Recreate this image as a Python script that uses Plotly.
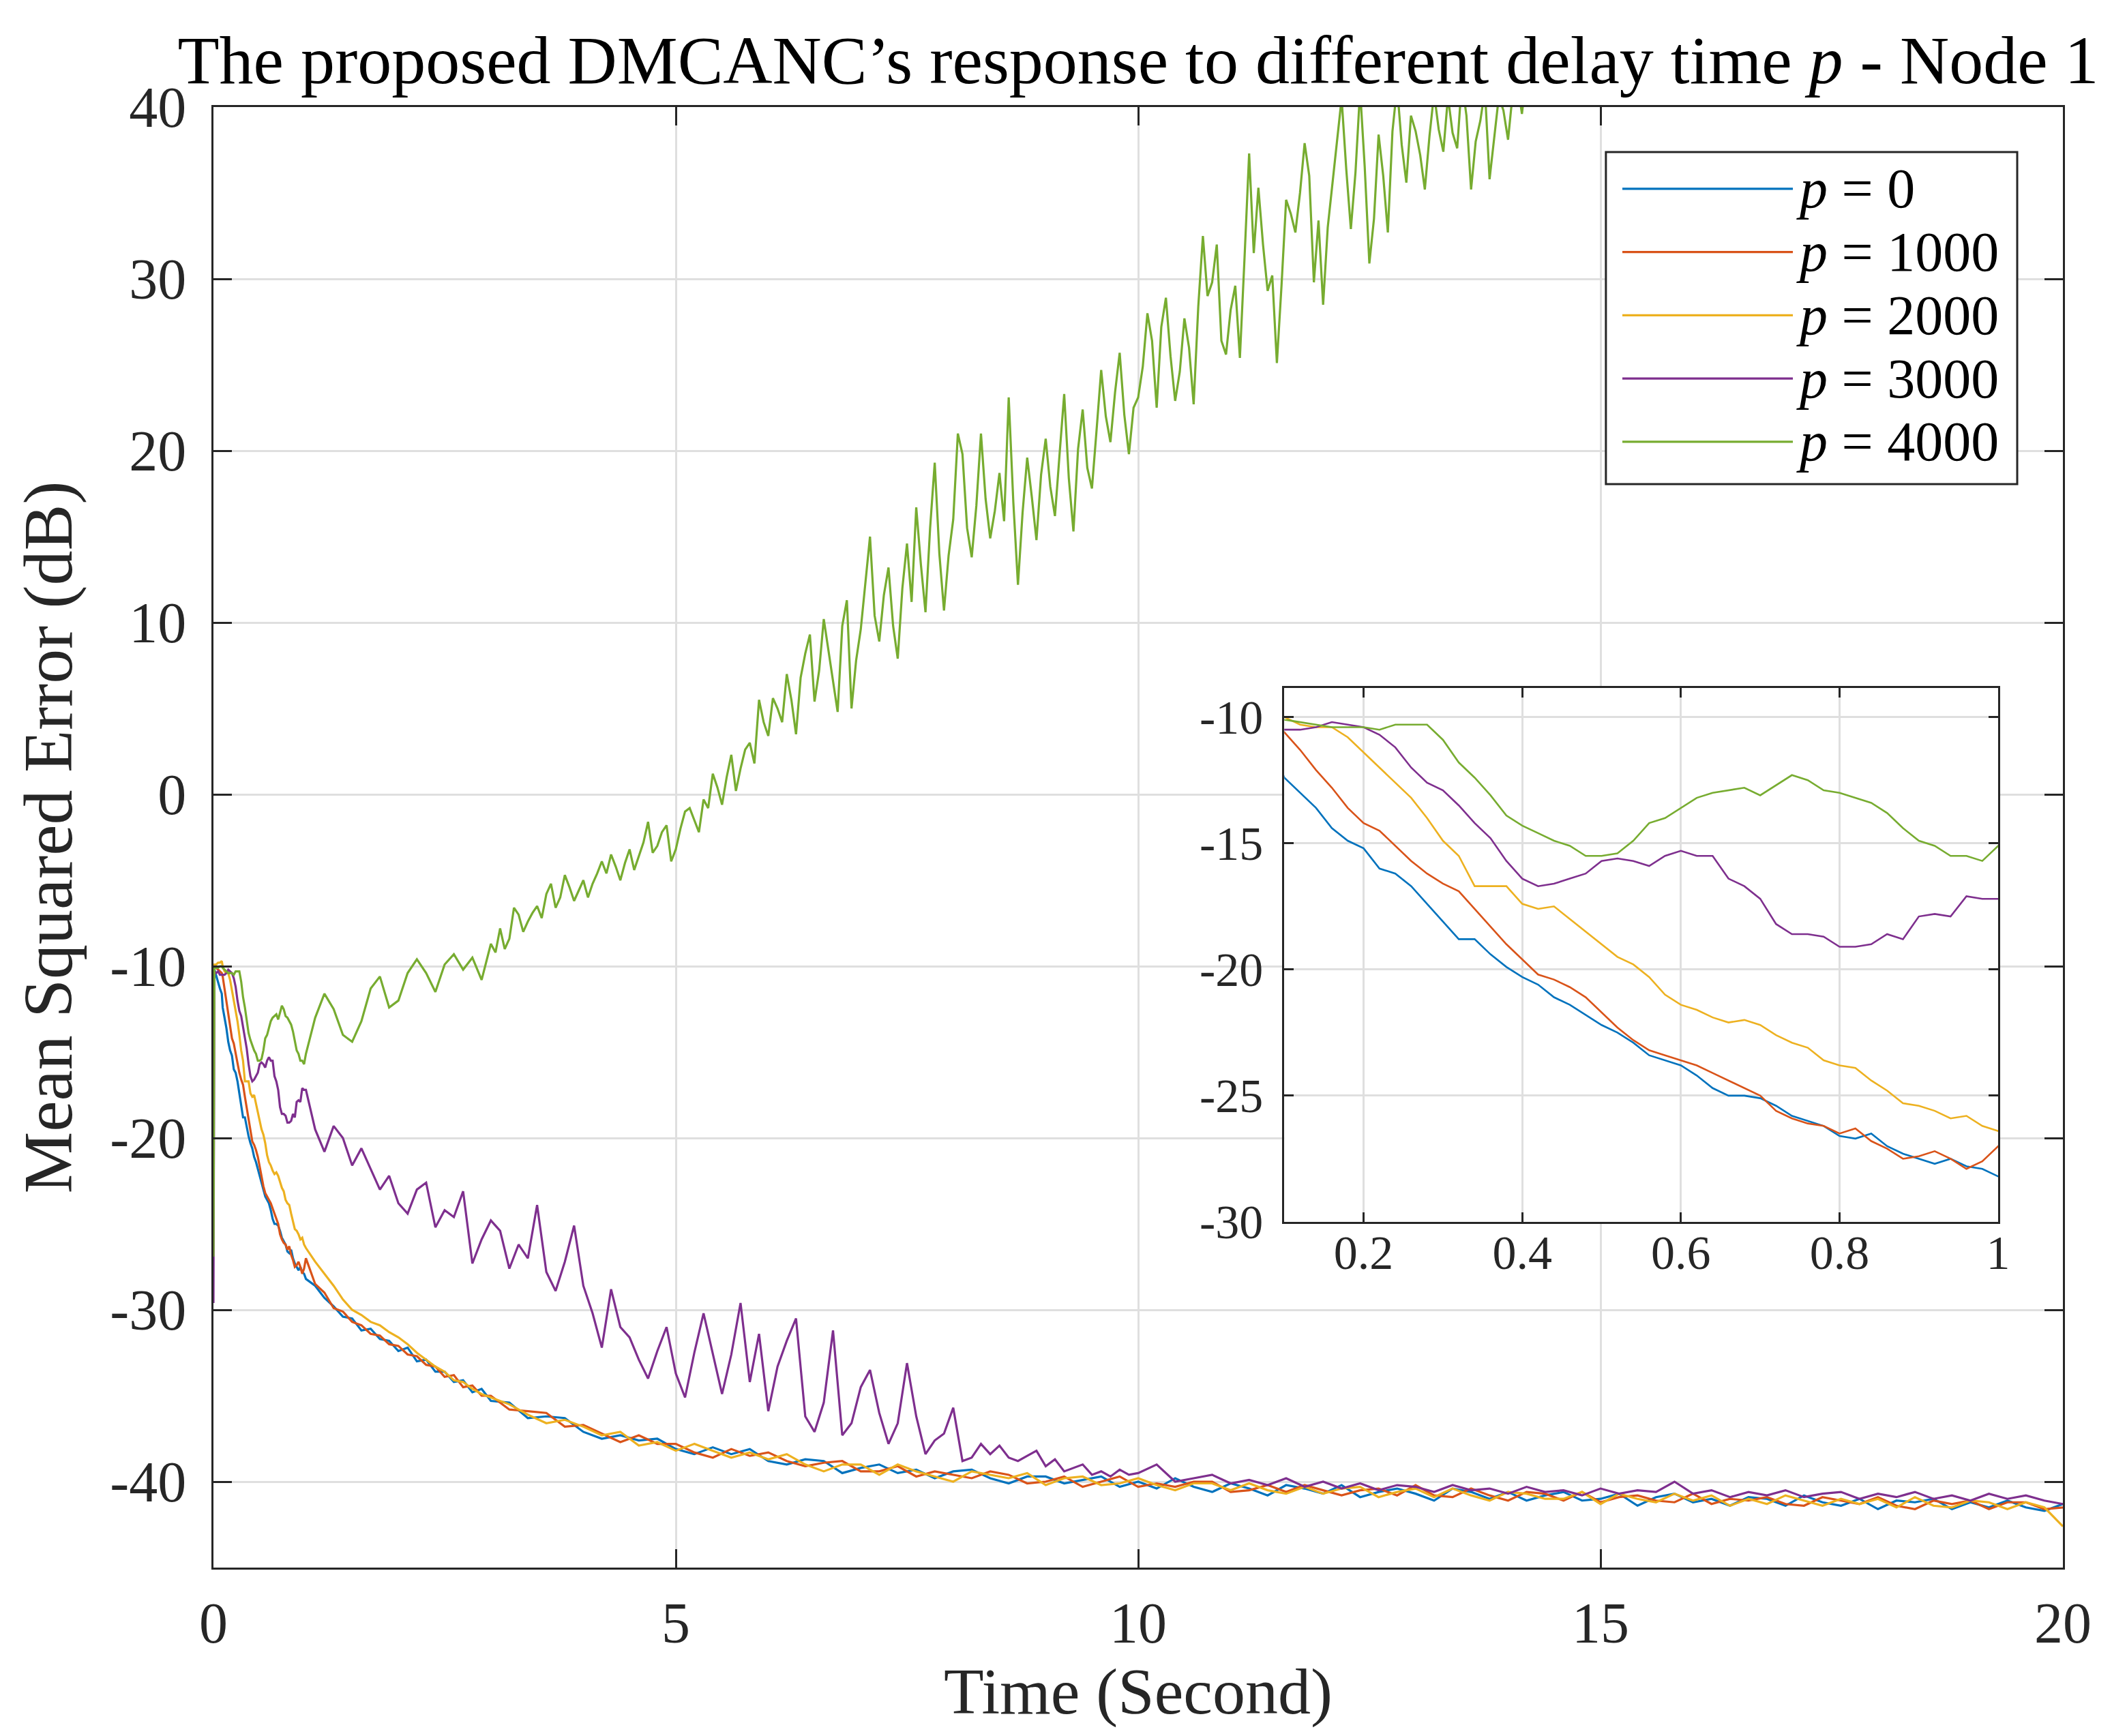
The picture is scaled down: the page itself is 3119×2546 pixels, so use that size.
import numpy as np
import plotly.graph_objects as go

FONT = "Liberation Serif"
INK = "#262626"
GRID = "#dfdfdf"

TITLE = "The proposed DMCANC’s response to different delay time <i>p</i> - Node 1"
X_TITLE = "Time (Second)"
Y_TITLE = "Mean Squared Error (dB)"

P_VALUES = [0, 1000, 2000, 3000, 4000]
COLORS = ["#0072BD", "#D95319", "#EDB120", "#7E2F8E", "#77AC30"]

X_TICKS = [0, 5, 10, 15, 20]
Y_TICKS = [-40, -30, -20, -10, 0, 10, 20, 30, 40]
INSET_X_TICKS = [0.2, 0.4, 0.6, 0.8, 1.0]
INSET_Y_TICKS = [-30, -25, -20, -15, -10]

# sample times (seconds)
T_EARLY = [0.0, 0.01, 0.03, 0.05, 0.07, 0.09]
T_FINE = list(np.round(np.arange(0.10, 1.001, 0.02), 2))      # 46 points, also used by the inset
T_MID = list(np.round(np.arange(1.1, 3.001, 0.1), 2))         # 20
T_LATE = list(np.round(np.arange(3.2, 20.001, 0.2), 2))       # 85
T_PURPLE_MID = list(np.round(np.arange(1.1, 10.001, 0.1), 2))  # 90
T_PURPLE_LATE = list(np.round(np.arange(10.2, 20.001, 0.2), 2))  # 50
T_GREEN_LATE = list(np.round(np.arange(3.05, 14.3001, 0.05), 2))  # 226

# ---- p = 0 (blue)
blue_early = [-10.0, -10.2, -10.6, -11.0, -11.3, -11.6]
blue_fine = [-12.4, -13.0, -13.6, -14.4, -14.9, -15.2, -16.0, -16.2, -16.7, -17.4,
             -18.1, -18.8, -18.8, -19.4, -19.9, -20.3, -20.6, -21.1, -21.4, -21.8,
             -22.2, -22.5, -22.9, -23.4, -23.6, -23.8, -24.2, -24.7, -25.0, -25.0,
             -25.1, -25.4, -25.8, -26.0, -26.2, -26.6, -26.7, -26.5, -27.0, -27.3,
             -27.5, -27.7, -27.5, -27.8, -27.9, -28.2]
blue_mid = [-28.6, -29.3, -29.8, -30.4, -30.5, -31.2, -31.1, -31.7, -31.8, -32.4,
            -32.2, -33.0, -32.9, -33.6, -33.6, -34.2, -34.1, -34.8, -34.6, -35.3]
blue_late = [-35.4, -36.3, -36.2, -36.3, -37.1, -37.5, -37.3, -37.6, -37.5, -38.1,
             -38.4, -38.0, -38.4, -38.1, -38.8, -39.0, -38.7, -38.8, -39.5, -39.2,
             -39.0, -39.5, -39.3, -39.8, -39.4, -39.3, -39.8, -40.1, -39.7, -39.7,
             -40.1, -39.9, -39.7, -40.3, -40.0, -40.4, -39.8, -40.3, -40.6, -40.1,
             -40.4, -40.8, -40.2, -40.4, -40.7, -40.2, -40.9, -40.6, -40.4, -40.7,
             -41.1, -40.4, -40.6, -41.0, -40.6, -41.1, -40.8, -40.6, -41.1, -41.0,
             -40.7, -41.4, -40.9, -40.7, -41.2, -41.0, -41.4, -40.9, -41.0, -41.4,
             -40.8, -41.2, -41.4, -41.0, -41.6, -41.1, -41.2, -41.0, -41.6, -41.2,
             -41.5, -41.1, -41.5, -41.7, -41.3]

# ---- p = 1000 (red)
red_early = [-10.0, -10.0, -10.1, -10.2, -10.3, -10.4]
red_fine = [-10.6, -11.3, -12.1, -12.8, -13.6, -14.2, -14.5, -15.1, -15.7, -16.2,
            -16.6, -16.9, -17.6, -18.3, -19.0, -19.6, -20.2, -20.4, -20.7, -21.1,
            -21.7, -22.3, -22.8, -23.2, -23.4, -23.6, -23.8, -24.1, -24.4, -24.7,
            -25.0, -25.6, -25.9, -26.1, -26.2, -26.5, -26.3, -26.8, -27.1, -27.5,
            -27.4, -27.2, -27.5, -27.9, -27.6, -27.0]
red_mid = [-28.5, -29.0, -29.9, -30.1, -30.7, -30.9, -31.4, -31.5, -32.0, -32.1,
           -32.6, -32.7, -33.2, -33.3, -33.9, -33.8, -34.5, -34.4, -35.0, -35.0]
red_late = [-35.8, -35.9, -36.0, -36.8, -36.7, -37.2, -37.7, -37.3, -37.8, -37.8,
            -38.3, -38.6, -38.1, -38.5, -38.3, -38.8, -39.1, -38.9, -38.8, -39.4,
            -39.4, -39.1, -39.7, -39.4, -39.6, -39.8, -39.4, -39.6, -40.1, -40.0,
            -39.7, -40.3, -40.0, -39.7, -40.3, -40.1, -40.3, -40.0, -40.0, -40.6,
            -40.5, -40.2, -40.6, -40.2, -40.5, -40.8, -40.5, -40.4, -40.8, -40.2,
            -40.8, -40.9, -40.4, -40.8, -41.1, -40.6, -40.7, -41.1, -40.6, -41.2,
            -40.9, -40.8, -41.1, -41.2, -40.7, -41.3, -41.0, -41.1, -40.9, -41.3,
            -41.4, -40.9, -41.1, -41.3, -40.9, -41.4, -41.6, -41.1, -41.3, -41.1,
            -41.6, -41.2, -41.2, -41.6, -41.5]

# ---- p = 2000 (yellow)
yellow_early = [-10.0, -9.9, -9.9, -9.8, -9.8, -9.7]
yellow_fine = [-10.0, -10.3, -10.4, -10.4, -10.8, -11.4, -12.0, -12.6, -13.2, -14.0,
               -14.9, -15.5, -16.7, -16.7, -16.7, -17.4, -17.6, -17.5, -18.0, -18.5,
               -19.0, -19.5, -19.8, -20.3, -21.0, -21.4, -21.6, -21.9, -22.1, -22.0,
               -22.2, -22.6, -22.9, -23.1, -23.6, -23.8, -23.9, -24.4, -24.8, -25.3,
               -25.4, -25.6, -25.9, -25.8, -26.2, -26.4]
yellow_mid = [-27.2, -27.9, -28.6, -29.4, -30.0, -30.3, -30.7, -30.9, -31.3, -31.6,
              -32.0, -32.5, -32.9, -33.3, -33.6, -34.1, -34.2, -34.6, -34.9, -35.1]
yellow_late = [-35.5, -36.1, -36.6, -36.4, -36.8, -37.3, -37.1, -37.9, -37.7, -38.2,
               -37.8, -38.2, -38.6, -38.3, -38.7, -38.4, -39.0, -39.4, -39.0, -39.0,
               -39.6, -39.0, -39.4, -39.7, -40.0, -39.4, -39.6, -39.8, -39.5, -40.2,
               -39.8, -39.7, -40.2, -40.1, -39.8, -40.2, -40.5, -40.1, -40.1, -40.5,
               -40.1, -40.5, -40.7, -40.3, -40.7, -40.4, -40.3, -40.9, -40.6, -40.4,
               -40.9, -40.4, -40.8, -41.1, -40.6, -40.7, -41.0, -41.0, -40.6, -41.3,
               -40.7, -41.0, -41.2, -40.7, -41.1, -40.8, -41.4, -41.0, -41.3, -40.8,
               -41.1, -41.4, -41.0, -41.3, -41.0, -41.5, -40.9, -41.4, -41.5, -41.1,
               -41.2, -41.6, -41.2, -41.5, -42.6]

# ---- p = 3000 (purple)
purple_early = [-29.6, -10.3, -10.4, -10.3, -10.5, -10.5]
purple_fine = [-10.5, -10.5, -10.4, -10.2, -10.3, -10.4, -10.7, -11.2, -12.0, -12.6,
               -12.9, -13.5, -14.2, -14.8, -15.7, -16.4, -16.7, -16.6, -16.4, -16.2,
               -15.7, -15.6, -15.7, -15.9, -15.5, -15.3, -15.5, -15.5, -16.4, -16.7,
               -17.2, -18.2, -18.6, -18.6, -18.7, -19.1, -19.1, -19.0, -18.6, -18.8,
               -17.9, -17.8, -17.9, -17.1, -17.2, -17.2]
purple_mid = [-19.5, -20.8, -19.3, -20.0, -21.6, -20.6, -21.8, -23.0, -22.2, -23.8,
              -24.4, -23.0, -22.6, -25.2, -24.2, -24.6, -23.1, -27.3, -25.9, -24.8,
              -25.4, -27.6, -26.2, -27.0, -23.9, -27.8, -28.9, -27.2, -25.1, -28.6,
              -30.2, -32.2, -28.8, -31.0, -31.6, -32.9, -34.0, -32.4, -31.0, -33.7,
              -35.1, -32.5, -30.2, -32.6, -34.9, -32.6, -29.6, -34.2, -31.4, -35.9,
              -33.3, -31.8, -30.5, -36.2, -37.1, -35.4, -31.2, -37.3, -36.6, -34.5,
              -33.5, -36.0, -37.8, -36.6, -33.1, -36.2, -38.4, -37.6, -37.2, -35.7,
              -38.8, -38.6, -37.8, -38.4, -37.9, -38.6, -38.8, -38.5, -38.2, -39.1,
              -38.7, -39.4, -39.2, -39.0, -39.6, -39.4, -39.7, -39.3, -39.6, -39.5]
purple_late = [-39.0, -40.0, -39.8, -39.6, -40.1, -39.9, -40.2, -39.8, -40.3, -40.0,
               -40.4, -40.1, -40.5, -40.2, -40.3, -40.6, -40.2, -40.5, -40.4, -40.7,
               -40.3, -40.6, -40.5, -40.8, -40.4, -40.7, -40.5, -40.6, -40.0, -40.7,
               -40.5, -40.9, -40.6, -40.8, -40.5, -40.9, -40.7, -40.6, -41.0, -40.7,
               -40.9, -40.6, -41.0, -40.8, -41.1, -40.7, -41.0, -40.8, -41.1, -41.3]

# ---- p = 4000 (green), leaves the top of the axes after ~14 s
green_early = [-26.9, -10.0, -10.1, -10.1, -10.0, -10.0]
green_fine = [-10.1, -10.2, -10.3, -10.4, -10.4, -10.4, -10.5, -10.3, -10.3, -10.3,
              -10.9, -11.8, -12.4, -13.1, -13.9, -14.3, -14.6, -14.9, -15.1, -15.5,
              -15.5, -15.4, -14.9, -14.2, -14.0, -13.6, -13.2, -13.0, -12.9, -12.8,
              -13.1, -12.7, -12.3, -12.5, -12.9, -13.0, -13.2, -13.4, -13.8, -14.4,
              -14.9, -15.1, -15.5, -15.5, -15.7, -15.1]
green_mid = [-13.0, -11.6, -12.5, -14.0, -14.4, -13.2, -11.3, -10.6, -12.4, -12.0,
             -10.4, -9.6, -10.4, -11.5, -9.9, -9.3, -10.2, -9.5, -10.8, -8.7]
green_late = [-9.2, -7.8, -9.0, -8.4, -6.6, -7.0, -8.0, -7.4, -6.9, -6.5,
              -7.2, -5.8, -5.2, -6.6, -6.0, -4.7, -5.4, -6.2, -5.6, -5.0,
              -6.0, -5.2, -4.6, -3.9, -4.6, -3.5, -4.2, -5.0, -4.0, -3.2,
              -4.4, -3.6, -2.8, -1.6, -3.4, -3.0, -2.2, -1.8, -3.9, -3.2,
              -2.0, -1.0, -0.8, -1.5, -2.2, -0.3, -0.8, 1.2, 0.4, -0.6,
              1.0, 2.3, 0.2, 1.5, 2.6, 3.0, 1.8, 5.5, 4.2, 3.4,
              5.6, 5.0, 4.2, 7.0, 5.5, 3.5, 6.8, 8.2, 9.3, 5.4,
              7.2, 10.2, 8.4, 6.6, 4.8, 9.8, 11.3, 5.0, 7.8, 9.6,
              12.2, 15.0, 10.4, 8.9, 11.6, 13.2, 9.8, 7.9, 12.0, 14.6,
              11.2, 16.7, 13.4, 10.6, 15.5, 19.3, 14.0, 10.7, 13.9, 16.0,
              21.0, 19.8, 15.5, 13.8, 16.8, 21.0, 17.2, 14.9, 16.5, 18.7,
              15.9, 23.1, 17.0, 12.2, 16.4, 19.6, 17.3, 14.8, 18.6, 20.7,
              17.9, 16.2, 19.8, 23.3, 18.4, 15.3, 20.1, 22.4, 19.0, 17.8,
              21.2, 24.7, 22.0, 20.5, 23.4, 25.7, 22.1, 19.8, 22.5, 23.1,
              24.9, 28.0, 26.4, 22.5, 27.2, 28.9, 25.5, 22.9, 24.6, 27.7,
              26.0, 22.7, 28.4, 32.5, 29.0, 29.8, 32.0, 26.4, 25.6, 28.2,
              29.6, 25.4, 31.2, 37.3, 31.5, 35.3, 32.0, 29.3, 30.2, 25.1,
              29.6, 34.6, 33.8, 32.7, 35.0, 37.9, 36.0, 29.8, 33.4, 28.5,
              33.0, 35.5, 37.8, 40.5, 36.4, 32.9, 36.2, 41.0, 36.5, 30.9,
              33.5, 38.4, 36.0, 32.7, 38.6, 41.2, 37.8, 35.6, 39.5, 38.6,
              37.2, 35.2, 38.3, 40.8, 38.7, 37.4, 40.6, 38.5, 37.6, 41.5,
              39.5, 35.2, 38.0, 39.2, 41.0, 35.8, 38.2, 40.6, 39.8, 38.1,
              40.8, 41.5, 39.6, 42.0, 41.8, 43.0]


def build_series():
    t_start = T_EARLY + T_FINE
    t_band = t_start + T_MID + T_LATE
    series = [
        (t_band, blue_early + blue_fine + blue_mid + blue_late),
        (t_band, red_early + red_fine + red_mid + red_late),
        (t_band, yellow_early + yellow_fine + yellow_mid + yellow_late),
        (t_start + T_PURPLE_MID + T_PURPLE_LATE, purple_early + purple_fine + purple_mid + purple_late),
        (t_start + T_MID + T_GREEN_LATE, green_early + green_fine + green_mid + green_late),
    ]
    for t, v in series:
        assert len(t) == len(v), (len(t), len(v))
    return series


def axis_style(size, ticklen):
    return dict(
        showline=True, linecolor=INK, linewidth=3, mirror="allticks",
        ticks="inside", ticklen=ticklen, tickwidth=3, tickcolor=INK,
        showgrid=True, gridcolor=GRID, gridwidth=3, zeroline=False,
        tickfont=dict(family=FONT, size=size, color=INK),
    )


def make_figure():
    fig = go.Figure()
    series = build_series()

    # main axes
    for (t, v), p, c in zip(series, P_VALUES, COLORS):
        fig.add_trace(go.Scatter(x=t, y=v, mode="lines", name=f"p = {p}",
                                 line=dict(color=c, width=3.2)))
    # zoomed inset, same data
    for (t, v), p, c in zip(series, P_VALUES, COLORS):
        fig.add_trace(go.Scatter(x=t, y=v, mode="lines", name=f"p = {p}",
                                 xaxis="x2", yaxis="y2", showlegend=False,
                                 line=dict(color=c, width=2.6)))

    xaxis = axis_style(84, 27)
    xaxis.update(range=[0, 20], tickvals=X_TICKS, ticktext=[str(v) for v in X_TICKS],
                 ticklabelstandoff=6,
                 title=dict(text=X_TITLE, font=dict(family=FONT, size=96, color=INK), standoff=14))
    yaxis = axis_style(84, 27)
    yaxis.update(range=[-45, 40], tickvals=Y_TICKS, ticktext=[str(v) for v in Y_TICKS],
                 ticklabelstandoff=20,
                 title=dict(text=Y_TITLE, font=dict(family=FONT, size=102, color=INK), standoff=22))
    xaxis2 = axis_style(70, 14)
    xaxis2.update(domain=[0.579, 0.965], anchor="y2", range=[0.1, 1.0],
                  tickvals=INSET_X_TICKS, ticktext=[f"{v:g}" for v in INSET_X_TICKS],
                  ticklabelstandoff=-18)
    yaxis2 = axis_style(70, 14)
    yaxis2.update(domain=[0.2367, 0.6022], anchor="x2", range=[-30, -8.85],
                  tickvals=INSET_Y_TICKS, ticktext=[str(v) for v in INSET_Y_TICKS],
                  ticklabelstandoff=14)

    fig.update_layout(
        width=3119, height=2546,
        margin=dict(l=305, r=102, t=149, b=255),
        paper_bgcolor="white", plot_bgcolor="white",
        showlegend=False,
        title=dict(text=TITLE, x=0.5, xref="paper", xanchor="center",
                   y=0.969, yref="container", yanchor="middle",
                   font=dict(family=FONT, size=100, color="black")),
        xaxis=xaxis, yaxis=yaxis, xaxis2=xaxis2, yaxis2=yaxis2,
    )

    # legend box drawn by hand so the line samples are long like the original
    fig.add_shape(type="rect", xref="paper", yref="paper",
                  x0=0.7529, x1=0.9753, y0=0.7418, y1=0.9692,
                  fillcolor="white", line=dict(color=INK, width=3))
    for i, (p, c) in enumerate(zip(P_VALUES, COLORS)):
        y = 0.9440 - i * 0.0433
        fig.add_shape(type="line", xref="paper", yref="paper",
                      x0=0.7618, x1=0.8540, y0=y, y1=y, line=dict(color=c, width=3.2))
        fig.add_annotation(xref="paper", yref="paper", x=0.855, y=y,
                           text=f"<i>p</i> = {p}", showarrow=False,
                           xanchor="left", yanchor="middle",
                           font=dict(family=FONT, size=82, color="black"))
    return fig


if __name__ == "__main__":
    fig = make_figure()
    fig.write_html("out.html")
